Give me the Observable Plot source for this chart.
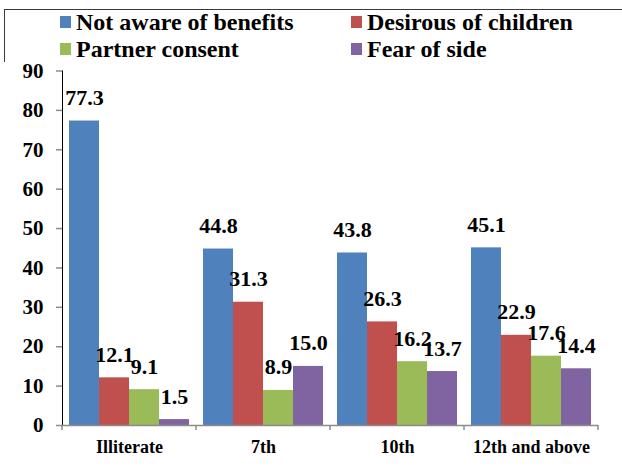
<!DOCTYPE html>
<html>
<head>
<meta charset="utf-8">
<script src="https://cdn.jsdelivr.net/npm/d3@7"></script>
<script src="https://cdn.jsdelivr.net/npm/@observablehq/plot@0.6"></script>
<style>
  html, body { margin: 0; padding: 0; background: #fff; overflow: hidden; }
  body { width: 622px; height: 469px; position: relative; }
  #box {
    position: absolute; left: 4px; top: 9px; width: 700px; height: 600px;
    border-top: 1px solid #3a3a3a; border-left: 1px solid #3a3a3a;
  }
  #legend {
    position: absolute; left: 60px; top: 9.4px;
    display: grid; grid-template-columns: 291px auto;
    font-family: "Liberation Serif", "DejaVu Serif", serif;
    font-weight: bold; font-size: 24px; line-height: 27px; color: #000;
  }
  #legend .item { white-space: nowrap; }
  #legend .sw { display: inline-block; width: 11px; height: 12px; margin: 0 5px 2px 0; }
  #chart { position: absolute; left: 0; top: 62px; }
  #chart svg, #chart svg text { font-family: "Liberation Serif", "DejaVu Serif", serif !important; font-weight: bold; }
  #chart [aria-label^="y-axis"] text { font-size: 21px; fill: #000; }
  #chart [aria-label^="fx-axis"] text { font-size: 18px; fill: #000; }
  #chart [aria-label^="y-axis"] path,
  #chart [aria-label^="y-axis"] line { stroke: #8c8c8c; stroke-width: 1.5px; stroke-opacity: 1; }
</style>
</head>
<body>
<div id="box"></div>
<div id="legend"></div>
<div id="chart"></div>
<script>
// Reasons for not using contraception, by education level (%)
const categories = ["Illiterate", "7th", "10th", "12th and above"];
const series = ["Not aware of benefits", "Desirous of children", "Partner consent", "Fear of side"];
const notAware  = [77.3, 44.8, 43.8, 45.1];
const desirous  = [12.1, 31.3, 26.3, 22.9];
const partner   = [9.1, 8.9, 16.2, 17.6];
const fearSide  = [1.5, 15.0, 13.7, 14.4];
const yTicks = [0, 10, 20, 30, 40, 50, 60, 70, 80, 90];
const colors = ["#4F81BD", "#C0504D", "#9BBB59", "#8064A2"];

const valuesBySeries = [notAware, desirous, partner, fearSide];
const rows = categories.flatMap((c, i) =>
  series.map((s, j) => ({category: c, series: s, value: valuesBySeries[j][i]}))
);

// Legend: two rows of two entries
d3.select("#legend").selectAll("div")
  .data(series)
  .join("div")
  .attr("class", "item")
  .html((s, j) => `<span class="sw" style="background:${colors[j]}"></span>${s}`);

const fmt = d3.format(".1f");
const serif = '"Liberation Serif", "DejaVu Serif", serif';

const plot = Plot.plot({
  width: 622,
  height: 407,
  marginLeft: 62,
  marginRight: 24,
  marginTop: 8.5,
  marginBottom: 44,
  style: {background: "#fff", overflow: "visible", fontFamily: serif, fontWeight: "bold"},
  fx: {
    domain: categories,
    padding: 0,
    round: false,
    axis: "bottom",
    tickSize: 0,
    tickPadding: 15,
    label: null
  },
  x: {
    domain: series,
    paddingInner: 0,
    paddingOuter: 0.2333,
    round: false,
    axis: null
  },
  y: {
    domain: [0, 90],
    ticks: yTicks,
    tickSize: 6,
    tickPadding: 13,
    line: true,
    label: null
  },
  color: {domain: series, range: colors},
  marks: [
    Plot.barY(rows, {fx: "category", x: "series", y: "value", fill: "series"}),
    Plot.ruleY([0], {stroke: "#8c8c8c", strokeWidth: 1.5}),
    Plot.text(rows, {
      fx: "category", x: "series", y: "value",
      text: d => fmt(d.value),
      lineAnchor: "bottom",
      dy: -16,
      fontSize: 22,
      fontWeight: "bold",
      fontFamily: serif,
      fill: "#000"
    })
  ]
});

document.getElementById("chart").appendChild(plot);

// Category boundary tick marks below the baseline
const fxs = plot.scale("fx");
const ys = plot.scale("y");
const bw = fxs.bandwidth != null ? fxs.bandwidth : (fxs.range[1] - fxs.range[0]) / categories.length;
const edges = categories.map(c => fxs.apply(c));
edges.push(fxs.apply(categories[categories.length - 1]) + bw);
const y0 = ys.apply(0);
d3.select(plot).append("g")
  .attr("stroke", "#8c8c8c")
  .attr("stroke-width", 1.5)
  .selectAll("line")
  .data(edges)
  .join("line")
  .attr("x1", d => d).attr("x2", d => d)
  .attr("y1", y0).attr("y2", y0 + 5);
</script>
</body>
</html>
